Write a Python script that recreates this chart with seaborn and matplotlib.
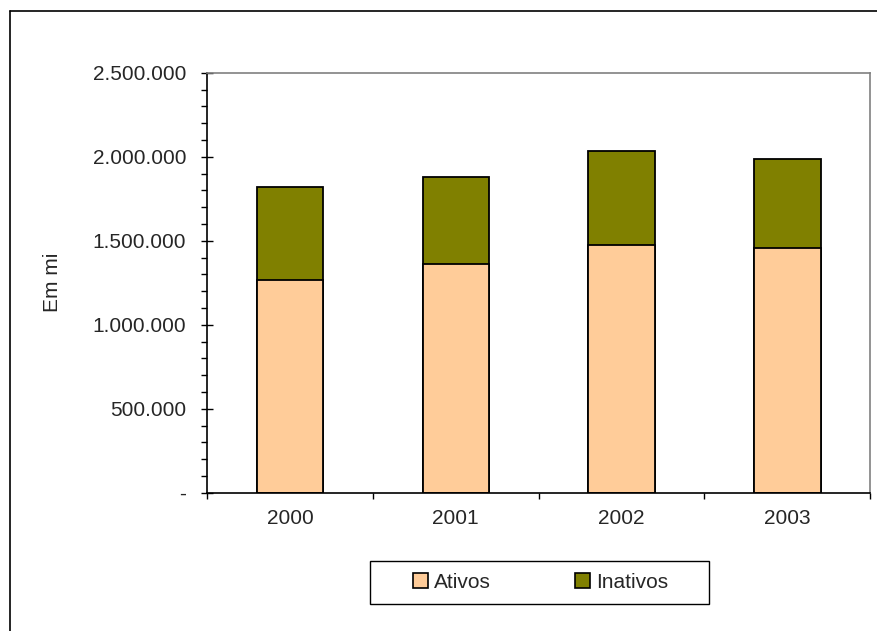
import matplotlib
matplotlib.use("Agg")
import matplotlib.pyplot as plt
import matplotlib.ticker as mticker
from matplotlib.patches import Patch, Rectangle
from matplotlib.lines import Line2D
from matplotlib.transforms import ScaledTranslation
import seaborn as sns
import pandas as pd

# Data
anos = ["2000", "2001", "2002", "2003"]
ativos = [1263700, 1358900, 1475500, 1454100]
inativos = [555100, 519400, 559300, 531300]

cor_ativos = "#FFCC99"
cor_inativos = "#808000"

sns.set_theme(style="white")
plt.rcParams["font.family"] = ["Liberation Sans", "DejaVu Sans"]
plt.rcParams["font.size"] = 15

df = pd.DataFrame({"ano": anos, "ativos": ativos, "inativos": inativos})
df["total"] = df["ativos"] + df["inativos"]

W, H = 878, 631
fig = plt.figure(figsize=(W / 100, H / 100), dpi=100)
fig.patch.set_facecolor("white")
ax = fig.add_axes([207 / W, 1 - 492.7 / H, (870.3 - 207) / W, (492.7 - 72.7) / H])

# stacked bars: full height in olive, active part drawn over it
sns.barplot(data=df, x="ano", y="total", color=cor_inativos, saturation=1,
            width=0.4, edgecolor="black", linewidth=1.3, ax=ax, order=anos)
sns.barplot(data=df, x="ano", y="ativos", color=cor_ativos, saturation=1,
            width=0.4, edgecolor="black", linewidth=1.3, ax=ax, order=anos)

ax.set_xlim(-0.5, 3.5)
ax.set_ylim(0, 2500000)
ax.set_xlabel("")
ax.set_ylabel("Em mi", fontsize=15, labelpad=22)

# y axis: major every 500.000, minor every 100.000
ax.yaxis.set_major_locator(mticker.MultipleLocator(500000))
ax.yaxis.set_minor_locator(mticker.MultipleLocator(100000))


def fmt_mil(v, pos):
    if abs(v) < 1:
        return "-"
    return f"{int(round(v)):,}".replace(",", ".")


ax.yaxis.set_major_formatter(mticker.FuncFormatter(fmt_mil))
ax.tick_params(axis="y", which="major", direction="inout", length=8.6, width=1,
               color="black", pad=10.8, labelsize=15, left=True)
ax.tick_params(axis="y", which="minor", direction="out", length=4.5, width=1,
               color="black", left=True)

# x axis: tick marks on category boundaries, labels at centres
ax.xaxis.set_minor_locator(mticker.FixedLocator([-0.5, 0.5, 1.5, 2.5, 3.5]))
ax.tick_params(axis="x", which="major", length=0, pad=12, labelsize=15, bottom=True)
ax.tick_params(axis="x", which="minor", direction="out", length=4, width=1,
               color="black", bottom=True)

for side in ["left", "bottom"]:
    ax.spines[side].set_color("black")
    ax.spines[side].set_linewidth(1.2)
for side in ["top", "right"]:
    ax.spines[side].set_color("#808080")
    ax.spines[side].set_linewidth(1.2)
    ax.spines[side].set_visible(True)
ax.grid(False)

# the dash for zero sits further left, as in accounting format
fig.canvas.draw()
zero_tick = ax.yaxis.get_major_ticks()[0]
zero_tick.label1.set_transform(zero_tick.label1.get_transform()
                               + ScaledTranslation(-21 / 100, 0, fig.dpi_scale_trans))

# legend
handles = [Patch(facecolor=cor_ativos, edgecolor="black", linewidth=1.2, label="Ativos"),
           Patch(facecolor=cor_inativos, edgecolor="black", linewidth=1.2, label="Inativos")]
fig.legend(handles=handles, loc="center", ncol=2, frameon=False,
           bbox_to_anchor=(540.5 / W, 1 - 582.5 / H), bbox_transform=fig.transFigure,
           handlelength=0.72, handleheight=0.72, handletextpad=0.3,
           columnspacing=4.0, fontsize=15)
fig.add_artist(Rectangle((370 / W, 1 - 604 / H), 339 / W, 43 / H,
                         transform=fig.transFigure, fill=False,
                         edgecolor="black", linewidth=1.0))

# outer chart frame (left and top edges)
fig.add_artist(Line2D([10.5 / W, 10.5 / W], [0, 1 - 11 / H], transform=fig.transFigure,
                      color="black", linewidth=1.2))
fig.add_artist(Line2D([10.5 / W, 1], [1 - 11 / H, 1 - 11 / H], transform=fig.transFigure,
                      color="black", linewidth=1.2))

fig.savefig("out.png", dpi=100, facecolor="white")
